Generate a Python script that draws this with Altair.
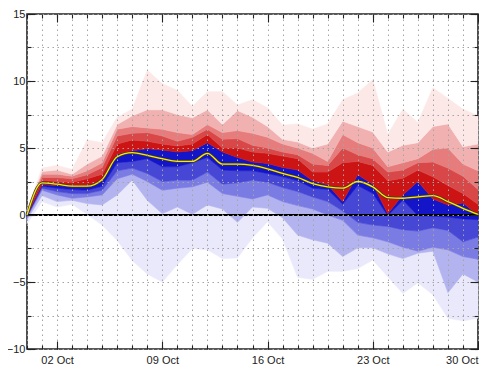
import altair as alt
import pandas as pd

# ---- data ----
day_index = pd.date_range("2023-09-30", periods=31, freq="D")
dates = day_index.strftime("%Y-%m-%dT00:00:00Z").tolist()

q0 = [-0.65, 1.0, 0.6, 0.8, 0.05, -0.75, -1.9, -3.4, -4.4, -5.0, -3.7, -2.5, -2.6, -3.25, -3.2, -1.7,
      -0.5, -1.8, -4.65, -4.8, -4.2, -4.2, -4.0, -3.35, -4.6, -5.85, -5.05, -5.95, -7.7, -7.9, -7.7]
q10 = [-0.35, 1.45, 1.0, 1.1, 0.85, 0.75, 1.5, 2.6, 1.1, 0.1, 0.6, 0.05, 0.75, 0.45, -0.55, 0.6,
       0.5, -0.2, -1.5, -1.85, -2.1, -3.1, -2.45, -2.45, -2.9, -3.25, -2.85, -2.7, -5.8, -4.4, -5.0]
q20 = [-0.2, 1.85, 1.5, 1.25, 1.35, 1.5, 2.7, 3.05, 2.5, 1.85, 2.0, 2.1, 2.45, 1.6, 1.4, 1.2,
       1.5, 1.0, 0.7, 0.45, 0.0, -0.4, -1.5, -1.7, -2.0, -2.4, -2.7, -2.4, -2.6, -3.1, -3.3]
q30 = [-0.1, 2.0, 1.75, 1.6, 1.6, 1.85, 3.3, 3.5, 3.1, 2.5, 2.6, 2.6, 3.2, 2.3, 2.4, 2.6,
       2.45, 2.05, 1.75, 1.35, 1.0, 0.3, -0.55, -0.75, -0.85, -1.1, -1.2, -0.95, -1.15, -2.0, -1.65]
q40 = [-0.05, 2.15, 2.0, 1.9, 1.85, 2.15, 3.9, 4.0, 4.2, 3.6, 3.6, 3.9, 4.3, 3.35, 3.3, 3.3,
       3.1, 2.85, 2.55, 2.0, 1.9, 0.8, 2.2, 1.6, -0.05, 1.1, -0.05, -0.1, -0.15, -0.3, -0.35]
q50 = [0.0, 2.25, 2.2, 2.15, 2.15, 2.5, 4.55, 4.8, 4.95, 4.85, 4.7, 4.8, 5.4, 4.7, 4.3, 3.95,
       3.85, 3.55, 3.35, 2.55, 2.25, 1.0, 3.0, 2.3, 0.1, 1.5, 2.5, 1.2, 0.75, 0.9, 0.0]
q60 = [0.1, 2.6, 2.5, 2.45, 2.7, 3.05, 5.3, 5.6, 5.5, 5.3, 5.15, 5.3, 6.0, 5.0, 5.0, 4.7,
       4.6, 4.4, 4.2, 3.2, 3.2, 3.9, 4.0, 3.7, 2.55, 2.75, 3.35, 2.85, 2.2, 1.6, 0.8]
q70 = [0.2, 2.8, 2.8, 2.7, 3.0, 3.55, 5.9, 6.1, 6.15, 5.9, 5.5, 5.8, 6.4, 5.65, 5.7, 5.2,
       5.0, 4.7, 4.5, 3.8, 3.7, 5.0, 4.5, 4.2, 3.2, 3.35, 3.9, 3.95, 3.5, 2.9, 1.9]
q80 = [0.25, 3.05, 3.05, 2.9, 3.3, 3.9, 6.4, 6.6, 6.5, 6.4, 6.15, 6.0, 6.75, 6.15, 6.3, 6.1,
       5.8, 5.3, 5.0, 4.6, 4.0, 6.0, 5.4, 5.0, 3.6, 3.9, 4.2, 4.9, 5.0, 3.8, 3.3]
q90 = [0.3, 3.25, 3.35, 3.05, 3.8, 4.4, 6.75, 7.4, 7.85, 7.85, 7.5, 7.25, 7.85, 6.75, 7.8, 7.3,
       6.6, 5.65, 5.45, 5.0, 5.3, 7.0, 6.6, 6.2, 4.7, 5.2, 5.4, 6.6, 6.8, 5.1, 5.3]
q100 = [0.4, 3.5, 3.7, 3.4, 5.6, 5.4, 7.3, 7.9, 10.8, 9.8, 9.3, 8.1, 9.2, 9.2, 8.2, 8.6,
        8.0, 6.7, 6.8, 6.4, 6.8, 8.6, 9.1, 10.1, 6.0, 7.9, 6.9, 9.5, 8.7, 7.9, 7.4]
median = [0.0, 2.4, 2.3, 2.15, 2.15, 2.65, 4.35, 4.65, 4.45, 4.2, 4.0, 4.0, 4.6, 3.8, 3.8, 3.7,
          3.45, 3.1, 2.8, 2.35, 2.1, 2.0, 2.5, 2.1, 1.3, 1.25, 1.35, 1.45, 1.0, 0.5, 0.05]

band_names = ["b0", "b1", "b2", "b3", "b4", "b5", "b6", "b7", "b8", "b9"]
band_colors = ["#e9e9fb", "#b3b3f0", "#7b7be4", "#4747d6", "#1414c8",
               "#cc1414", "#d94848", "#e67c7c", "#f1b1b1", "#fde8e8"]

y_major = [-10, -5, 0, 5, 10, 15]
y_minor = [-10, -7.5, -5, -2.5, 0, 2.5, 5, 7.5, 10, 12.5, 15]

# ---- tables ----
bounds = [q0, q10, q20, q30, q40, q50, q60, q70, q80, q90, q100]
rows = []
for i, name in enumerate(band_names):
    for d, lo, hi in zip(dates, bounds[i], bounds[i + 1]):
        rows.append({"date": d, "lo": lo, "hi": hi, "band": name})
bands_df = pd.DataFrame(rows)
med_df = pd.DataFrame({"date": dates, "v": median})


def dt(ts):
    return alt.DateTime(year=int(ts.year), month=int(ts.month), date=int(ts.day), utc=True)


x_minor = [dt(ts) for ts in day_index]
x_major = [dt(ts) for ts in day_index if ts.dayofweek == day_index[2].dayofweek]
x_scale = alt.Scale(type="utc", domain=[dt(day_index[0]), dt(day_index[-1])], nice=False)
y_scale = alt.Scale(domain=[-10, 15], nice=False, zero=False)
c_scale = alt.Scale(domain=band_names, range=band_colors)

common = dict(title=None, domain=False, zindex=1, tickColor="#222", tickWidth=1.1)
grid_style = dict(grid=True, gridDash=[1.5, 3.5], gridColor="#a4a4a4", gridWidth=1)

xA = alt.Axis(orient="bottom", values=x_major, format="%d %b", tickSize=8, offset=-8,
              grid=False, labelPadding=5, labelColor="#222", labelFlush=True, **common)
xB = alt.Axis(orient="bottom", values=x_minor, labels=False, tickSize=4, offset=-4,
              **grid_style, **common)
xC = alt.Axis(orient="top", values=x_major, labels=False, tickSize=8, offset=-8, grid=False, **common)
xD = alt.Axis(orient="top", values=x_minor, labels=False, tickSize=4, offset=-4, grid=False, **common)

yA = alt.Axis(orient="left", values=y_major, tickSize=8, offset=-8, grid=False,
              labelPadding=2, labelColor="#222", **common)
yB = alt.Axis(orient="left", values=y_minor, labels=False, tickSize=4, offset=-4,
              **grid_style, **common)
yC = alt.Axis(orient="right", values=y_major, labels=False, tickSize=8, offset=-8, grid=False, **common)
yD = alt.Axis(orient="right", values=y_minor, labels=False, tickSize=4, offset=-4, grid=False, **common)

bands = alt.Chart(bands_df).mark_area(interpolate="linear", strokeWidth=0.6).encode(
    x=alt.X("date:T", scale=x_scale, axis=xA),
    y=alt.Y("lo:Q", scale=y_scale, axis=yA, stack=None),
    y2="hi:Q",
    color=alt.Color("band:N", scale=c_scale, legend=None),
    stroke=alt.Stroke("band:N", scale=c_scale, legend=None),
)

zero = alt.Chart(med_df).mark_rule(color="black", strokeWidth=1.3).encode(
    y=alt.YDatum(0, scale=y_scale, axis=None)
)

outline = alt.Chart(med_df).mark_line(color="#3a3a3a", strokeWidth=2.6, interpolate="monotone").encode(
    x=alt.X("date:T", scale=x_scale, axis=xB),
    y=alt.Y("v:Q", scale=y_scale, axis=yB),
)

yellow = alt.Chart(med_df).mark_line(color="#ffe800", strokeWidth=1.3, interpolate="monotone").encode(
    x=alt.X("date:T", scale=x_scale, axis=xC),
    y=alt.Y("v:Q", scale=y_scale, axis=yC),
)

ghost = alt.Chart(med_df).mark_line(opacity=0).encode(
    x=alt.X("date:T", scale=x_scale, axis=xD),
    y=alt.Y("v:Q", scale=y_scale, axis=yD),
)

chart = (
    alt.layer(bands, zero, outline, yellow, ghost)
    .resolve_axis(x="independent", y="independent")
    .properties(
        width=451, height=335,
        autosize=alt.AutoSizeParams(type="none"),
        padding={"left": 19, "top": 6, "right": 1, "bottom": 17},
        background="white",
    )
    .configure_view(stroke="#222", strokeWidth=1.6)
    .configure_axis(labelFont="Liberation Sans", labelFontSize=11)
)

chart.save("out.html", embed_options={"renderer": "svg", "actions": False})
